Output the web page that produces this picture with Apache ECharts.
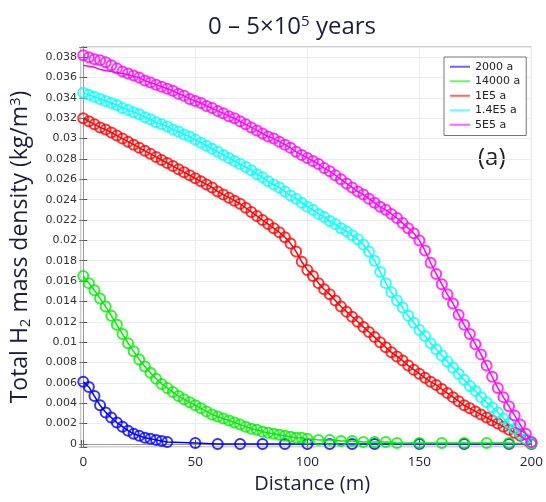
<!DOCTYPE html>
<html><head><meta charset="utf-8">
<script src="https://cdn.jsdelivr.net/npm/echarts@6/dist/echarts.min.js"></script>
<style>html,body{margin:0;padding:0;background:#fff}#c{width:546px;height:502px}</style>
</head><body><div id="c"></div>
<script>
// sample positions (m)
const xDense = [0,2.5,5,7.5,10,12.5,15,17.5,20,22.5,25,27.5,30,32.5,35,37.5,40,42.5,45,47.5,50,52.5,55,57.5,60,62.5,65,67.5,70,72.5,75,77.5,80,82.5,85,87.5,90,92.5,95,97.5,100,102.5,105,107.5,110,112.5,115,117.5,120,122.5,125,127.5,130,132.5,135,137.5,140,142.5,145,147.5,150,152.5,155,157.5,160,162.5,165,167.5,170,172.5,175,177.5,180,182.5,185,187.5,190,192.5,195,197.5,200];

// 5E5 a (circles)
const magenta = [.0382,.0380,.0378,.0377,.0375,.0372,.0369,.0366,.0364,.0362,
.0360,.0357,.0355,.0353,.0351,.0349,.0347,.0344,.0342,.0339,
.0337,.0335,.0332,.0330,.0327,.0325,.0322,.0320,.0317,.0314,
.0311,.0308,.0305,.0302,.0300,.0297,.0294,.0291,.0287,.0284,
.0281,.0278,.0275,.0271,.0268,.0264,.0260,.0256,.0252,.0248,
.0245,.0241,.0237,.0233,.0230,.0226,.0222,.0217,.0212,.0207,
.0200,.0190,.0178,.0167,.0157,.0147,.0138,.0127,.0117,.0108,
.0098,.0088,.0077,.0066,.0055,.0046,.0037,.0028,.0019,.0010,
.0002];
// 5E5 a line: first part differs from circles
const magentaLineStart = [.0372,.0371,.0370,.0368,.0367,.0366,.0365,.0364,.0363,.0361,.0360];

// 1.4E5 a
const cyan = [.0345,.0343,.0341,.0339,.0337,.0335,.0333,.0330,.0328,.0326,
.0324,.0321,.0319,.0316,.0314,.0312,.0309,.0307,.0304,.0302,
.0299,.0296,.0293,.0290,.0287,.0284,.0281,.0278,.0275,.0272,
.0269,.0265,.0262,.0258,.0255,.0252,.0248,.0244,.0241,.0237,
.0233,.0230,.0226,.0223,.0219,.0216,.0212,.0209,.0205,.0201,
.0196,.0189,.0180,.0169,.0158,.0149,.0141,.0134,.0126,.0119,
.0112,.0106,.0099,.0093,.0087,.0081,.0075,.0069,.0063,.0057,
.0052,.0046,.0041,.0036,.0031,.0025,.0020,.0015,.0010,.0005,
.0001];

// 1E5 a
const red = [.0320,.0317,.0314,.0311,.0309,.0306,.0303,.0300,.0297,.0294,
.0291,.0288,.0285,.0282,.0279,.0276,.0273,.0270,.0267,.0264,
.0261,.0258,.0255,.0252,.0248,.0245,.0242,.0239,.0236,.0232,
.0228,.0224,.0220,.0216,.0212,.0208,.0203,.0197,.0189,.0179,
.0171,.0165,.0158,.0152,.0147,.0141,.0135,.0130,.0125,.0120,
.0115,.0110,.0105,.0100,.0095,.0090,.0086,.0082,.0077,.0073,
.0069,.0065,.0061,.0058,.0054,.0050,.0046,.0042,.0038,.0035,
.0032,.0029,.0026,.0023,.0020,.0017,.0014,.0011,.0008,.0004,
.0001];

// 14000 a
const greenX = [0,2.5,5,7.5,10,12.5,15,17.5,20,22.5,25,27.5,30,32.5,35,37.5,40,42.5,45,47.5,50,52.5,55,57.5,60,62.5,65,67.5,70,72.5,75,77.5,80,82.5,85,87.5,90,92.5,95,97.5,100,105,110,115,120,125,130,135,140,150,160,170,180,190,200];
const green = [.0165,.0158,.0151,.0143,.0135,.0126,.0117,.0108,.0099,.0091,
.0083,.0076,.0070,.0064,.0059,.0055,.0051,.0047,.0044,.0041,
.0038,.0035,.0032,.0029,.0027,.0025,.0023,.0021,.0019,.0017,
.0015,.0014,.0012,.0011,.0010,.0009,.0008,.0007,.0006,.0006,
.0005,.0004,.0004,.0003,.0003,.0002,.0002,.0002,.0001,.0001,.0001,.0001,.0001,.0001,0];

// 2000 a
const blueX = [0,2.5,5,7.5,10,12.5,15,17.5,20,22.5,25,27.5,30,32.5,35,37.5,50,60,70,80,90,100,110,120,130,150,170,190,200];
const blue = [.0061,.0056,.0047,.0038,.0031,.0026,.0021,.0017,.0013,.0010,.0008,.0006,.0005,.0004,.0003,.0002,.0001,0,0,0,0,0,0,0,0,0,0,0,0];

const seriesNames = ['2000 a','14000 a','1E5 a','1.4E5 a','5E5 a'];
const colors = ['#0000ff','#00ee00','#ff0000','#00ffff','#ff00ff'];

const zip = (xs, ys) => xs.map((x, i) => [x, ys[i]]);
const magentaLine = magentaLineStart.concat(magenta.slice(magentaLineStart.length));

const lineData = [zip(blueX, blue), zip(greenX, green), zip(xDense, red), zip(xDense, cyan), zip(xDense, magentaLine)];
const markData = [zip(blueX, blue), zip(greenX, green), zip(xDense, red), zip(xDense, cyan), zip(xDense, magenta)];

const navy = '#1c1c40';
const fmtY = v => { const k = v / 0.002; return Math.abs(k - Math.round(k)) < 1e-6 ? String(+v.toFixed(3)) : ''; };
const fmtX = v => (v >= 0 && Math.abs(v % 50) < 1e-9) ? String(v) : '';

const series = [];
for (let i = 0; i < 5; i++) {
  series.push({
    name: seriesNames[i], type: 'line', data: lineData[i], symbol: 'none', showSymbol: false,
    lineStyle: { color: colors[i], width: 1.5 }, itemStyle: { color: colors[i] }, clip: false, z: 2 + i * 2
  });
  series.push({
    name: '_m' + i, type: 'scatter', data: markData[i], symbol: 'circle', symbolSize: 10,
    itemStyle: { color: 'rgba(0,0,0,0)', borderColor: colors[i], borderWidth: 2 }, clip: false, z: 3 + i * 2
  });
}

const chart = echarts.init(document.getElementById('c'), null, { renderer: 'canvas' });
chart.setOption({
  animation: false,
  backgroundColor: '#fff',
  title: {
    text: '0 – 5×10{sup|5} years', left: 203, top: 9,
    textStyle: { fontFamily: 'Open Sans', fontSize: 24, fontWeight: 'normal', color: navy,
      rich: { sup: { fontFamily: 'Open Sans', fontSize: 15, color: navy, padding: [0, 0, 12, 0] } } }
  },
  grid: { left: 80, right: 13, top: 47, bottom: 55, show: true, borderColor: '#999', borderWidth: 1 },
  legend: {
    orient: 'vertical', left: 444, top: 57, icon: 'rect', itemWidth: 20, itemHeight: 2, itemGap: 1,
    padding: [3, 6, 4, 6], backgroundColor: '#fff', borderColor: '#777', borderWidth: 1,
    textStyle: { fontFamily: 'DejaVu Sans', fontSize: 11, color: '#222', lineHeight: 13.5 },
    itemStyle: { opacity: 0.6 },
    data: seriesNames
  },
  xAxis: [{
    type: 'value', min: -1, max: 200, splitNumber: 4,
    axisLine: { lineStyle: { color: '#555' } },
    axisTick: { inside: true, length: 4, lineStyle: { color: '#555' } },
    axisLabel: { formatter: fmtX, fontFamily: 'Open Sans', fontSize: 13.5, color: navy, margin: 8 },
    splitLine: { show: true, lineStyle: { color: '#ececec' } },
    name: 'Distance (m)', nameLocation: 'middle', nameGap: 27,
    nameTextStyle: { fontFamily: 'Open Sans', fontSize: 20, color: navy, padding: [0, 0, 0, 12] }
  }, {
    type: 'value', position: 'top', min: -1, max: 200, splitNumber: 4,
    axisLine: { show: true, lineStyle: { color: '#999' } },
    axisTick: { inside: true, length: 4, lineStyle: { color: '#777' } },
    axisLabel: { show: false }, splitLine: { show: false }
  }],
  yAxis: [{
    type: 'value', min: -0.0003, max: 0.039, splitNumber: 20,
    axisLine: { show: true, lineStyle: { color: '#555' } },
    axisTick: { inside: true, length: 4, lineStyle: { color: '#555' } },
    axisLabel: { formatter: fmtY, fontFamily: 'DejaVu Sans', fontSize: 11, color: '#333', margin: 4 },
    splitLine: { show: true, lineStyle: { color: '#ececec' } },
    name: '{n|Total H}{sub|2}{n| mass density (kg/m}{sup|3}{n|)}', nameLocation: 'middle', nameGap: 48,
    nameTextStyle: { fontFamily: 'Open Sans', fontSize: 23, color: navy,
      rich: {
        n: { fontFamily: 'Open Sans', fontSize: 23, color: navy },
        sub: { fontFamily: 'Open Sans', fontSize: 15, color: navy, padding: [10, 0, 0, 0] },
        sup: { fontFamily: 'Open Sans', fontSize: 15, color: navy, padding: [0, 0, 10, 0] }
      } }
  }, {
    type: 'value', position: 'right', min: -0.0003, max: 0.039, splitNumber: 20,
    axisLine: { show: true, lineStyle: { color: '#999' } },
    axisTick: { inside: true, length: 4, lineStyle: { color: '#777' } },
    axisLabel: { show: false }, splitLine: { show: false }
  }],
  graphic: [{ type: 'text', left: 478, top: 146, style: { text: '(a)', font: '24px "Open Sans"', fill: '#222' } }],
  series: series
});
</script>
</body></html>
